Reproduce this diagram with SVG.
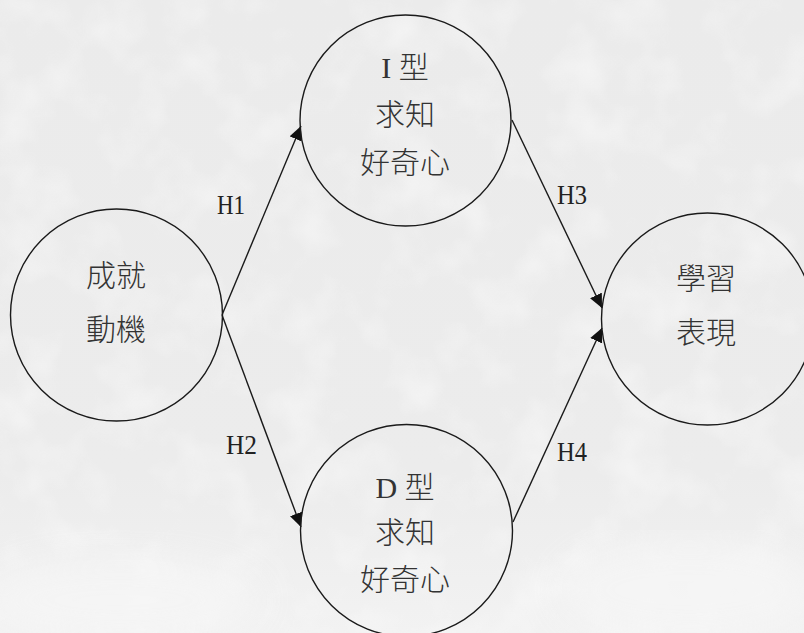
<svg xmlns="http://www.w3.org/2000/svg" width="804" height="633" viewBox="0 0 804 633">
  <defs>
    <style>
      .node { fill: none; stroke: #1a1a1a; stroke-width: 1.4; }
      .edge { fill: none; stroke: #1a1a1a; stroke-width: 1.4; }
      .lbl { font-family: "Liberation Serif", "Times New Roman", serif; font-size: 27px; fill: #222; }
      .cjk { font-family: "Liberation Serif", "Noto Sans CJK TC", "Noto Sans CJK SC", serif; font-size: 30px; font-weight: 300; fill: #333; text-anchor: middle; }
    </style>
    <marker id="arrow" markerUnits="userSpaceOnUse" markerWidth="16" markerHeight="14" refX="14" refY="6.5" orient="auto">
      <path d="M0,0 L14,6.5 L0,13 Z" fill="#111"/>
    </marker>
    <linearGradient id="bgGrad" x1="0" y1="0" x2="0" y2="1">
      <stop offset="0" stop-color="#ebebeb"/>
      <stop offset="0.75" stop-color="#ececec"/>
      <stop offset="1" stop-color="#f2f2f2"/>
    </linearGradient>
    <filter id="tex" x="0" y="0" width="100%" height="100%">
      <feTurbulence type="fractalNoise" baseFrequency="0.018" numOctaves="3" seed="7" result="n"/>
      <feColorMatrix type="matrix" values="0 0 0 0 1  0 0 0 0 1  0 0 0 0 1  1.2 0 0 0 -0.55" />
    </filter>
    <filter id="soft"><feGaussianBlur stdDeviation="18"/></filter>
  </defs>

  <g id="background">
    <rect x="0" y="0" width="804" height="633" fill="url(#bgGrad)"/>
    <rect x="0" y="0" width="804" height="633" filter="url(#tex)" opacity="0.8"/>
    <g filter="url(#soft)" fill="#f6f6f6" opacity="0.8">
      <ellipse cx="120" cy="600" rx="140" ry="40"/>
      <ellipse cx="690" cy="590" rx="130" ry="50"/>
    </g>
  </g>

  <g id="connectors">
    <line class="edge" x1="222" y1="315" x2="301" y2="126" marker-end="url(#arrow)"/>
    <line class="edge" x1="222" y1="315" x2="301" y2="527" marker-end="url(#arrow)"/>
    <line class="edge" x1="512" y1="120" x2="602" y2="308" marker-end="url(#arrow)"/>
    <line class="edge" x1="513" y1="522" x2="602" y2="328" marker-end="url(#arrow)"/>
    <text class="lbl" x="217" y="214" textLength="28" lengthAdjust="spacingAndGlyphs">H1</text>
    <text class="lbl" x="226" y="454" textLength="31" lengthAdjust="spacingAndGlyphs">H2</text>
    <text class="lbl" x="557" y="204" textLength="30" lengthAdjust="spacingAndGlyphs">H3</text>
    <text class="lbl" x="557" y="461" textLength="30" lengthAdjust="spacingAndGlyphs">H4</text>
  </g>

  <g id="node-achievement">
    <ellipse class="node" cx="116.5" cy="315" rx="106" ry="106"/>
    <text class="cjk" x="116" y="286">成就</text>
    <text class="cjk" x="116" y="340">動機</text>
  </g>

  <g id="node-i-curiosity">
    <ellipse class="node" cx="405.5" cy="120.5" rx="105.5" ry="105.5"/>
    <text class="cjk" x="405" y="78">I 型</text>
    <text class="cjk" x="405" y="125">求知</text>
    <text class="cjk" x="405" y="173">好奇心</text>
  </g>

  <g id="node-d-curiosity">
    <ellipse class="node" cx="406.5" cy="530.5" rx="106" ry="106"/>
    <text class="cjk" x="405" y="498">D 型</text>
    <text class="cjk" x="405" y="543">求知</text>
    <text class="cjk" x="405" y="590">好奇心</text>
  </g>

  <g id="node-performance">
    <ellipse class="node" cx="707.5" cy="319" rx="106" ry="106"/>
    <text class="cjk" x="706" y="289">學習</text>
    <text class="cjk" x="706" y="343">表現</text>
  </g>
</svg>
